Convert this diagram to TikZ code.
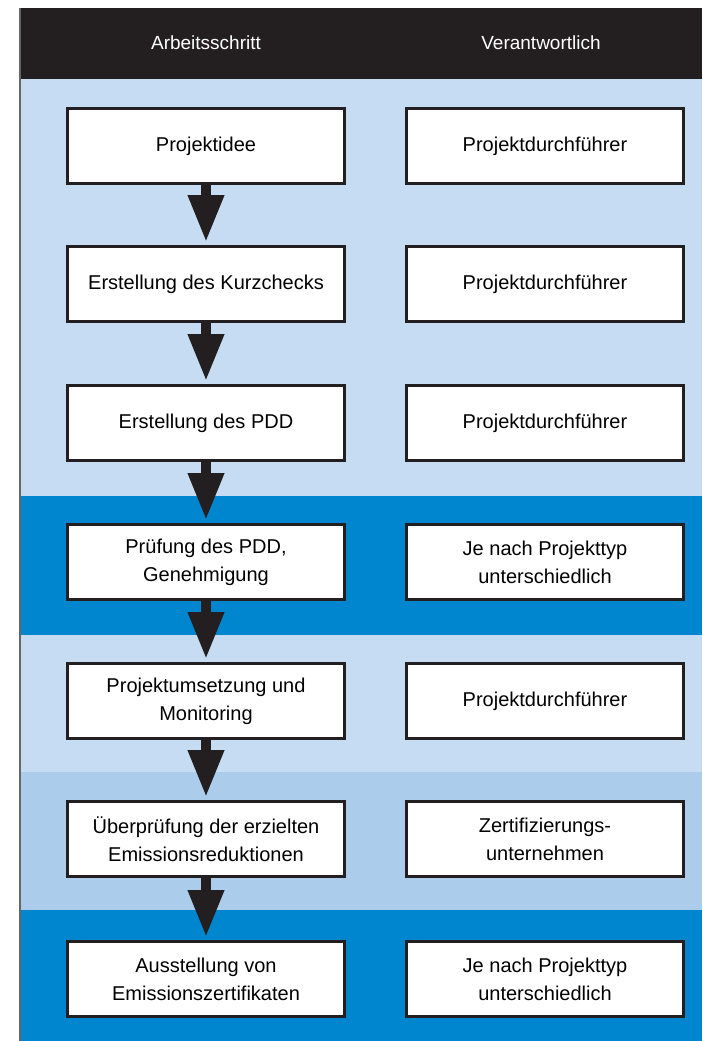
\documentclass[tikz,border=0pt]{standalone}
\usepackage{fontspec}
\setmainfont{Liberation Sans}
\usepackage{xcolor}
\usetikzlibrary{arrows.meta,positioning}

\definecolor{hellblau}{RGB}{198,220,242}
\definecolor{mittelblau}{RGB}{171,205,235}
\definecolor{dunkelblau}{RGB}{0,134,207}
\definecolor{fastschwarz}{RGB}{35,31,32}

\tikzset{
  schritt/.style={draw=fastschwarz, line width=3pt, fill=white, minimum width=277pt,
    minimum height=75pt, align=center, font=\fontsize{20}{28}\selectfont},
  kopf/.style={text=white, font=\fontsize{19}{27}\selectfont},
  pfeil/.style={fastschwarz, line width=10pt, -{Triangle[length=47pt,width=34pt]}}
}

\begin{document}
\begin{tikzpicture}[x=1pt,y=1pt]
\useasboundingbox (0,0) rectangle (702,-1041);

% bands
\fill[fastschwarz] (20,-8) rectangle (702,-79);
\fill[hellblau] (20,-79) rectangle (702,-496);
\fill[dunkelblau] (20,-496) rectangle (702,-635);
\fill[hellblau] (20,-635) rectangle (702,-772);
\fill[mittelblau] (20,-772) rectangle (702,-910);
\fill[dunkelblau] (20,-910) rectangle (702,-1041);
\draw[black!60, line width=2pt] (20,-8) -- (20,-1041);

% header
\node[kopf] (kopfschritt) at (206,-43) {Arbeitsschritt};
\node[kopf] (kopfwer) at (541,-43) {Verantwortlich};

% steps
\node[schritt] (idee) at (206,-146) {Projektidee};
\node[schritt] (kurzcheck) at (206,-284) {Erstellung des Kurzchecks};
\node[schritt] (pdd) at (206,-423) {Erstellung des PDD};
\node[schritt] (pruefung) at (206,-562) {Prüfung des PDD,\\Genehmigung};
\node[schritt] (umsetzung) at (206,-701) {Projektumsetzung und\\Monitoring};
\node[schritt] (ueberpruefung) at (206,-839) {Überprüfung der erzielten\\Emissionsreduktionen};
\node[schritt] (ausstellung) at (206,-979) {Ausstellung von\\Emissionszertifikaten};

% responsible
\node[schritt, right=59pt of idee] (wer1) {Projektdurchführer};
\node[schritt, right=59pt of kurzcheck] (wer2) {Projektdurchführer};
\node[schritt, right=59pt of pdd] (wer3) {Projektdurchführer};
\node[schritt, right=59pt of pruefung] (wer4) {Je nach Projekttyp\\unterschiedlich};
\node[schritt, right=59pt of umsetzung] (wer5) {Projektdurchführer};
\node[schritt, right=59pt of ueberpruefung] (wer6) {Zertifizierungs-\\unternehmen};
\node[schritt, right=59pt of ausstellung] (wer7) {Je nach Projekttyp\\unterschiedlich};

% arrows
\draw[pfeil] (idee.south) -- ([yshift=3pt]kurzcheck.north);
\draw[pfeil] (kurzcheck.south) -- ([yshift=3pt]pdd.north);
\draw[pfeil] (pdd.south) -- ([yshift=3pt]pruefung.north);
\draw[pfeil] (pruefung.south) -- ([yshift=3pt]umsetzung.north);
\draw[pfeil] (umsetzung.south) -- ([yshift=3pt]ueberpruefung.north);
\draw[pfeil] (ueberpruefung.south) -- ([yshift=3pt]ausstellung.north);

\end{tikzpicture}
\end{document}
